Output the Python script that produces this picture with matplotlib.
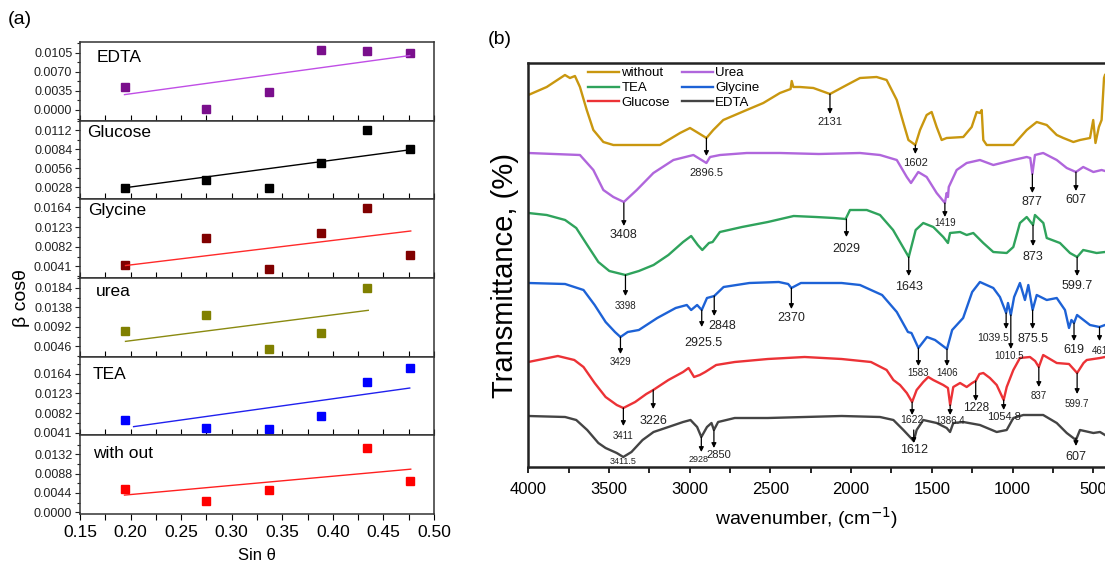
import numpy as np
import matplotlib
matplotlib.use("Agg")
import matplotlib.pyplot as plt
from matplotlib.ticker import MultipleLocator, FormatStrFormatter

plt.rcParams["font.family"] = ["Liberation Sans", "DejaVu Sans"]

# ---------------- (a) beta*cos(theta) vs sin(theta) ----------------
sin_theta = [0.194, 0.275, 0.337, 0.388, 0.434, 0.476]
samples = ["EDTA", "Glucose", "Glycine", "urea", "TEA", "with out"]
edta_bcos = [0.0042, 0.0002, 0.0033, 0.0111, 0.0108, 0.0105]
glucose_bcos = [0.0027, 0.0039, 0.0026, 0.0063, 0.0112, 0.0084]
glycine_bcos = [0.0044, 0.0101, 0.0035, 0.0110, 0.0163, 0.0064]
urea_bcos = [0.0082, 0.0120, 0.0040, 0.0077, 0.0183, np.nan]
tea_bcos = [0.0068, 0.0052, 0.0050, 0.0077, 0.0147, 0.0176]
without_bcos = [0.0052, 0.0025, 0.0051, np.nan, 0.0147, 0.0071]
# linear fit end points (x0, x1, y0, y1)
edta_fit = [0.194, 0.476, 0.0028, 0.0100]
glucose_fit = [0.194, 0.476, 0.0027, 0.0083]
glycine_fit = [0.195, 0.477, 0.0043, 0.0115]
urea_fit = [0.195, 0.435, 0.0058, 0.0131]
tea_fit = [0.203, 0.476, 0.0054, 0.0134]
without_fit = [0.194, 0.477, 0.0039, 0.0098]
# y tick values per panel
edta_ticks = [0.0, 0.0035, 0.0070, 0.0105]
glucose_ticks = [0.0028, 0.0056, 0.0084, 0.0112]
glycine_ticks = [0.0041, 0.0082, 0.0123, 0.0164]
urea_ticks = [0.0046, 0.0092, 0.0138, 0.0184]
tea_ticks = [0.0041, 0.0082, 0.0123, 0.0164]
without_ticks = [0.0, 0.0044, 0.0088, 0.0132]

# ---------------- (b) FTIR spectra (wavenumber, offset transmittance) ----------------
without_pts = [(4000, 372), (3886, 380), (3773, 392), (3742, 389), (3711, 391), (3680, 380),
               (3638, 357), (3597, 337), (3535, 325), (3473, 322), (3184, 322), (3060, 334),
               (2998, 339), (2957, 335), (2896.5, 329), (2854, 337), (2792, 347), (2647, 357),
               (2544, 364), (2441, 374), (2375, 378), (2368, 386), (2358, 380), (2317, 380),
               (2234, 379), (2131, 373), (2027, 382), (1945, 389), (1842, 390), (1780, 387),
               (1717, 367), (1676, 344), (1645, 327), (1602, 322), (1573, 337), (1532, 352),
               (1501, 355), (1470, 340), (1439, 327), (1408, 329), (1305, 330), (1253, 340),
               (1222, 355), (1202, 354), (1191, 357), (1181, 327), (1160, 322), (995, 322),
               (912, 337), (850, 345), (788, 342), (726, 332), (685, 329), (623, 325), (582, 327),
               (520, 329), (500, 347), (486, 324), (465, 340), (448, 347), (433, 389), (427, 392)]
urea_pts = [(4000, 314), (3680, 312), (3597, 297), (3535, 277), (3473, 270), (3408, 265),
            (3328, 277), (3225, 294), (3101, 307), (2977, 312), (2896.5, 304), (2874, 310),
            (2812, 312), (2647, 314), (2441, 314), (2200, 313), (1945, 314), (1821, 312),
            (1717, 307), (1655, 290), (1629, 284), (1584, 295), (1532, 290), (1470, 274),
            (1419, 264), (1408, 274), (1400, 270), (1395, 280), (1346, 297), (1284, 304),
            (1202, 307), (1119, 302), (995, 307), (912, 310), (890, 309), (877, 293), (861, 312),
            (810, 314), (726, 307), (664, 299), (607, 295), (562, 300), (499, 295), (448, 297),
            (427, 296)]
tea_pts = [(4000, 254), (3886, 252), (3772, 247), (3703, 239), (3635, 222), (3566, 205),
           (3498, 196), (3398, 192), (3315, 196), (3224, 202), (3132, 212), (3041, 225),
           (2991, 231), (2950, 222), (2922, 217), (2881, 224), (2858, 225), (2813, 235),
           (2676, 240), (2516, 245), (2356, 251), (2219, 250), (2105, 249), (2034, 248),
           (2007, 257), (1903, 257), (1821, 252), (1740, 237), (1679, 220), (1643, 210),
           (1600, 237), (1553, 244), (1491, 240), (1429, 230), (1400, 224), (1387, 234),
           (1325, 235), (1284, 232), (1243, 234), (1181, 224), (1119, 215), (1036, 214),
           (995, 220), (954, 244), (912, 250), (873, 242), (861, 252), (809, 244), (788, 229),
           (706, 224), (644, 214), (599.7, 210), (562, 217), (479, 214), (427, 215)]
glycine_pts = [(4000, 184), (3772, 183), (3658, 177), (3589, 162), (3521, 145), (3463, 135),
               (3429, 130), (3384, 135), (3315, 137), (3201, 149), (3087, 159), (3018, 162),
               (2991, 157), (2954, 162), (2925.5, 157), (2893, 169), (2848, 171), (2790, 180),
               (2630, 184), (2448, 185), (2390, 183), (2370, 179), (2311, 184), (2059, 184),
               (1945, 182), (1808, 172), (1717, 155), (1648, 135), (1626, 134), (1583, 119),
               (1530, 130), (1480, 127), (1406, 118), (1374, 137), (1306, 149), (1250, 175),
               (1202, 185), (1119, 179), (1078, 170), (1039.5, 154), (1028, 164), (1010.5, 152),
               (990, 170), (954, 184), (923, 167), (902, 182), (875.5, 157), (850, 172),
               (788, 167), (726, 169), (675, 157), (650, 139), (635, 147), (619, 144), (600, 152),
               (520, 142), (461, 140), (427, 142)]
glucose_pts = [(4000, 105), (3817, 111), (3715, 107), (3658, 100), (3589, 84), (3521, 70),
               (3452, 62), (3411, 59), (3338, 65), (3269, 73), (3226, 77), (3132, 87), (3041, 95),
               (3007, 99), (2973, 90), (2938, 92), (2904, 95), (2836, 102), (2721, 105),
               (2516, 108), (2288, 110), (2059, 108), (1877, 105), (1780, 97), (1738, 87),
               (1697, 82), (1655, 74), (1622, 65), (1594, 77), (1553, 85), (1522, 90), (1491, 87),
               (1429, 82), (1400, 79), (1386.4, 62), (1367, 80), (1325, 84), (1284, 80),
               (1250, 84), (1228, 86), (1205, 93), (1181, 94), (1140, 89), (1098, 82),
               (1054.8, 67), (1036, 80), (995, 97), (954, 109), (892, 110), (860, 106), (837, 100),
               (810, 112), (726, 104), (650, 103), (599.7, 94), (560, 104), (540, 107), (458, 109),
               (427, 110)]
edta_pts = [(4000, 51), (3772, 50), (3703, 47), (3635, 37), (3566, 24), (3521, 19), (3452, 14),
            (3411.5, 10), (3361, 15), (3292, 27), (3224, 35), (3132, 40), (3041, 45), (2995, 47),
            (2954, 40), (2928, 30), (2893, 40), (2865, 44), (2850, 37), (2824, 45), (2721, 49),
            (2516, 49), (2288, 50), (2059, 51), (1821, 50), (1738, 47), (1676, 37), (1612, 26),
            (1594, 37), (1553, 47), (1470, 44), (1408, 39), (1387, 35), (1367, 44), (1305, 45),
            (1202, 42), (1098, 35), (1036, 37), (995, 49), (933, 52), (810, 52), (726, 44),
            (664, 34), (607, 27), (582, 37), (499, 34), (458, 35), (427, 32)]

# peak labels (wavenumber, text)
peak_labels = [
    (2896.5, "2896.5"), (2131, "2131"), (1602, "1602"),
    (3408, "3408"), (1419, "1419"), (877, "877"), (607, "607"),
    (3398, "3398"), (2029, "2029"), (1643, "1643"), (873, "873"), (599.7, "599.7"),
    (3429, "3429"), (2925.5, "2925.5"), (2848, "2848"), (2370, "2370"), (1583, "1583"),
    (1406, "1406"), (1039.5, "1039.5"), (1010.5, "1010.5"), (875.5, "875.5"), (619, "619"),
    (461, "461"),
    (3411, "3411"), (3226, "3226"), (1622, "1622"), (1386.4, "1386.4"), (1228, "1228"),
    (1054.8, "1054.8"), (837, "837"), (599.7, "599.7"),
    (2928, "2928"), (2850, "2850"), (1612, "1612"), (607, "607"),
]

W, H = 1105, 564
fig = plt.figure(figsize=(W / 100, H / 100), dpi=100)

# ---------- panel (a) ----------
a_series = [edta_bcos, glucose_bcos, glycine_bcos, urea_bcos, tea_bcos, without_bcos]
a_fits = [edta_fit, glucose_fit, glycine_fit, urea_fit, tea_fit, without_fit]
a_ticks = [edta_ticks, glucose_ticks, glycine_ticks, urea_ticks, tea_ticks, without_ticks]
a_ylims = [(-0.0020, 0.0125), (0.0010, 0.0126), (0.0017, 0.0181),
           (0.0022, 0.0207), (0.0036, 0.0199), (-0.0004, 0.0175)]
mcolors = ["#7a0f8c", "#000000", "#800000", "#808000", "#0000ff", "#ff0000"]
lcolors = ["#c04ee6", "#000000", "#ff2a2a", "#8a8a10", "#2020ee", "#ff2020"]
name_pos = [(0.047, 0.806), (0.021, 0.852), (0.023, 0.863), (0.044, 0.833), (0.036, 0.778), (0.036, 0.77)]

a_left, a_right, a_top, a_bot = 80, 434, 42, 514
ph = (a_bot - a_top) / len(samples)
for i, name in enumerate(samples):
    ax = fig.add_axes([a_left / W, 1 - (a_top + (i + 1) * ph) / H,
                       (a_right - a_left) / W, ph / H])
    ax.plot(sin_theta, a_series[i], "s", color=mcolors[i], ms=6.3, mec=mcolors[i])
    f = a_fits[i]
    ax.plot(f[:2], f[2:], color=lcolors[i], lw=1.0)
    ax.set_xlim(0.15, 0.50)
    ax.set_ylim(*a_ylims[i])
    ax.set_yticks(a_ticks[i])
    step = a_ticks[i][1] - a_ticks[i][0]
    ax.yaxis.set_minor_locator(MultipleLocator(step / 2))
    ax.yaxis.set_major_formatter(FormatStrFormatter("%.4f"))
    ax.xaxis.set_major_locator(MultipleLocator(0.05))
    ax.xaxis.set_minor_locator(MultipleLocator(0.025))
    ax.tick_params(axis="y", which="both", direction="out", labelsize=9, length=3.5,
                   width=0.8, pad=2, colors="#222222")
    ax.tick_params(axis="y", which="minor", length=2)
    last = i == len(samples) - 1
    ax.tick_params(axis="x", which="both", direction="out" if last else "in",
                   length=4, width=0.8, labelsize=12.5, pad=4, labelbottom=last)
    for sp in ax.spines.values():
        sp.set_linewidth(1.1)
        sp.set_color("#333333")
    ax.text(name_pos[i][0], name_pos[i][1], name, transform=ax.transAxes,
            fontsize=12.5, ha="left", va="center")

fig.text(20 / W, 1 - 20 / H, "(a)", fontsize=14, ha="center", va="center")
fig.text(22 / W, 1 - 298 / H, "β cosθ", fontsize=14, rotation=90, ha="center", va="center")
fig.text(257 / W, 1 - 556 / H, "Sin θ", fontsize=12, ha="center", va="center")

# ---------- panel (b) ----------
b_left, b_top, b_bot = 528.3, 63, 467
axb = fig.add_axes([b_left / W, 1 - b_bot / H, (W - b_left) / W, (b_bot - b_top) / H])
spectra = [("without", without_pts, "#c9970f"), ("Urea", urea_pts, "#b066dc"),
           ("TEA", tea_pts, "#2fa35c"), ("Glycine", glycine_pts, "#1d62d6"),
           ("Glucose", glucose_pts, "#ec3236"), ("EDTA", edta_pts, "#444444")]
lines = {}
for name, pts, col in spectra:
    arr = np.array(pts, dtype=float)
    lines[name], = axb.plot(arr[:, 0], arr[:, 1], color=col, lw=1.7, label=name)

axb.set_xlim(4000, 427)
axb.set_ylim(0, 404)
axb.set_yticks([])
axb.xaxis.set_major_locator(MultipleLocator(500))
axb.xaxis.set_minor_locator(MultipleLocator(250))
axb.tick_params(axis="x", which="both", direction="out", length=4, width=1.2,
                labelsize=12, pad=7)
axb.spines["right"].set_visible(False)
for s in ("left", "top", "bottom"):
    axb.spines[s].set_linewidth(1.8)
    axb.spines[s].set_color("#222222")

order = ["without", "TEA", "Glucose", "Urea", "Glycine", "EDTA"]
axb.legend([lines[k] for k in order], order, ncol=2, loc="upper left",
           bbox_to_anchor=(0.103, 0.99), frameon=False, fontsize=9.5,
           handlelength=2.4, handletextpad=0.15, columnspacing=0.9,
           labelspacing=0.2, borderpad=0, borderaxespad=0)

# arrow placement: (arrow top, arrow tip, label y, font size, label x)
mark_layout = [
    (329, 311, 294, 8, None), (373, 353, 345, 8, None), (322, 313, 304, 8, None),
    (264, 241, 232, 9, None), (264, 250, 244, 7, None), (293, 274, 265, 9, None), (295, 276, 267, 9, None),
    (192, 171, 161, 7, None), (248, 230, 218, 9, None), (210, 191, 180, 9, None), (242, 221, 210, 9, None),
    (210, 191, 181, 9, None),
    (130, 113, 105, 7, None), (157, 140, 124, 9, 2916), (171, 151, 141, 9, 2800), (179, 158, 149, 9, None),
    (119, 101, 94, 7, None), (118, 101, 94, 7, None), (154, 138, 129, 7.5, 1120), (152, 118, 111, 7, 1020),
    (157, 138, 128, 9, None), (144, 126, 117, 9, None), (140, 126, 116, 7, None),
    (59, 41, 31, 7, None), (77, 58, 46, 9, None), (65, 52, 47, 7.5, None), (62, 52, 46, 7, None),
    (86, 66, 59, 8.5, None), (67, 57, 50, 8, None), (100, 80, 71, 7, None), (94, 73, 63, 7, None),
    (30, 15, 8, 6.5, 2948), (37, 19, 12, 8, 2818), (37, 24, 17, 9, None), (29, 21, 10, 9, None),
]
for (wn, txt), (y0, y1, yl, fs, xl) in zip(peak_labels, mark_layout):
    axb.annotate("", xy=(wn, y1), xytext=(wn, y0),
                 arrowprops=dict(arrowstyle="-|>", color="black", lw=0.9,
                                 mutation_scale=7, shrinkA=0, shrinkB=0))
    axb.text(wn if xl is None else xl, yl, txt, fontsize=fs, ha="center", va="center",
             color="#222222")
axb.text(3411.5, 5, "3411.5", fontsize=6.5, ha="center", va="center", color="#222222")

fig.text(500 / W, 1 - 40 / H, "(b)", fontsize=14, ha="center", va="center")
fig.text(505 / W, 1 - 275 / H, "Transmittance, (%)", fontsize=21, rotation=90,
         ha="center", va="center")
fig.text(807 / W, 1 - 518 / H, "wavenumber, (cm$^{-1}$)", fontsize=14,
         ha="center", va="center")

fig.savefig("out.png", dpi=100)
